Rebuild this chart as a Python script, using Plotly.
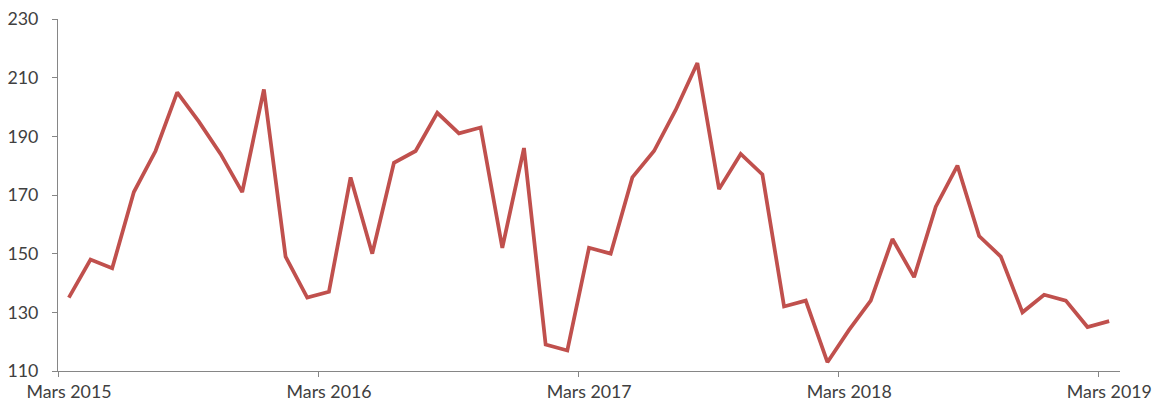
import plotly.graph_objects as go

values = [135, 148, 145, 171, 185, 205, 195, 184, 171, 206, 149, 135,
          137, 176, 150, 181, 185, 198, 191, 193, 152, 186, 119, 117,
          152, 150, 176, 185, 199, 215, 172, 184, 177, 132, 134, 113,
          124, 134, 155, 142, 166, 180, 156, 149, 130, 136, 134, 125,
          127]
month_names = ["Mars", "Avr", "Mai", "Juin", "Juil", "Août", "Sept", "Oct", "Nov", "Déc", "Janv", "Févr"]
months = []
for i in range(len(values)):
    yr = 2015 + (i + 2) // 12
    months.append(f"{month_names[i % 12]} {yr}")
label_idx = [0, 12, 24, 36, 48]
tick_labels = ["Mars 2015", "Mars 2016", "Mars 2017", "Mars 2018", "Mars 2019"]
y_ticks = [110, 130, 150, 170, 190, 210, 230]

x = list(range(len(values)))
axis_color = "#868686"
font = dict(family="Lato, Calibri, sans-serif", size=17.8, color="#404040")

fig = go.Figure(go.Scatter(
    x=x, y=values, mode="lines", customdata=months,
    hovertemplate="%{customdata}: %{y}<extra></extra>",
    line=dict(color="#C0504D", width=3.75),
))
fig.update_layout(
    width=1155, height=402,
    margin=dict(l=58, r=35, t=19, b=31),
    plot_bgcolor="white", paper_bgcolor="white",
    showlegend=False, font=font,
)
fig.update_xaxes(
    range=[-0.5, len(values) - 0.5],
    tickvals=[i - 0.5 for i in label_idx], ticktext=tick_labels,
    ticklabelshift=11, ticklabelstandoff=0, ticklabeloverflow="allow",
    ticks="outside", ticklen=5, tickcolor=axis_color,
    showline=True, linecolor=axis_color, linewidth=1,
    showgrid=False, zeroline=False, tickfont=font, automargin=False,
)
fig.update_yaxes(
    range=[110, 230], tickvals=y_ticks,
    ticks="outside", ticklen=5, tickcolor=axis_color,
    showline=True, linecolor=axis_color, linewidth=1,
    showgrid=False, zeroline=False, tickfont=font,
    ticklabelstandoff=10, ticklabeloverflow="allow", automargin=False,
)
fig.write_html(
    "out.html",
    config={"displayModeBar": False},
    post_script="document.body.style.margin='0';document.body.style.overflow='hidden';",
)
